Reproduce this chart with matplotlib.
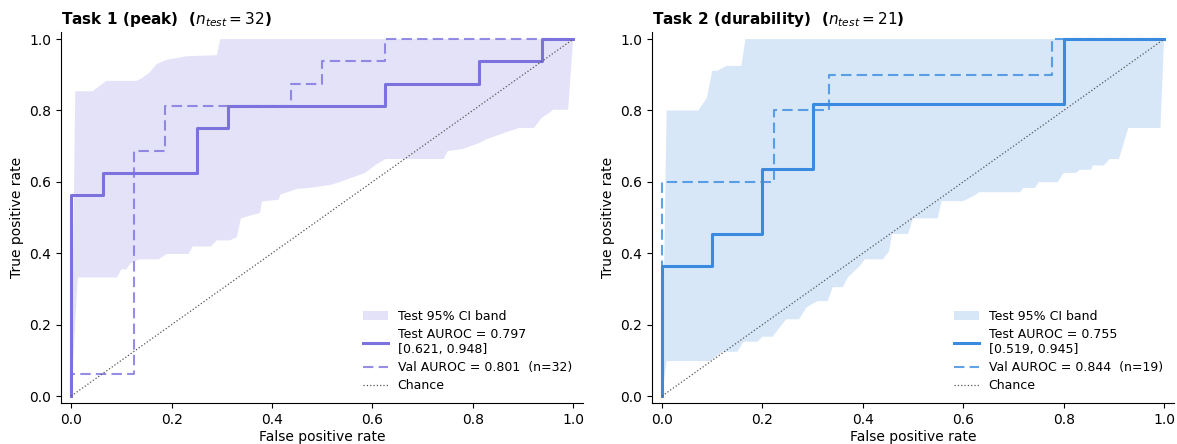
import numpy as np
import matplotlib.pyplot as plt

# task 1 (peak) - test roc curve vertices
t1_test_fpr = [0, 0, 0.0625, 0.0625, 0.25, 0.25, 0.3125, 0.3125, 0.625, 0.625, 0.8125, 0.8125, 0.9375, 0.9375, 1.0]
t1_test_tpr = [0, 0.5625, 0.5625, 0.625, 0.625, 0.75, 0.75, 0.8125, 0.8125, 0.875, 0.875, 0.9375, 0.9375, 1.0, 1.0]
# task 1 - val roc curve
t1_val_fpr = [0, 0, 0.125, 0.125, 0.1875, 0.1875, 0.4375, 0.4375, 0.5, 0.5, 0.625, 0.625, 1.0]
t1_val_tpr = [0, 0.0625, 0.0625, 0.6875, 0.6875, 0.8125, 0.8125, 0.875, 0.875, 0.9375, 0.9375, 1.0, 1.0]
# task 1 - bootstrap band (upper and lower edge)
t1_hi_fpr = [0, 0.008, 0.043, 0.05, 0.07, 0.13, 0.14, 0.155, 0.17, 0.19, 0.23, 0.29, 0.297, 1.0]
t1_hi_tpr = [0, 0.854, 0.854, 0.862, 0.883, 0.883, 0.89, 0.905, 0.93, 0.942, 0.952, 0.955, 1.0, 1.0]
t1_lo_fpr = [0, 0.013, 0.091, 0.1, 0.11, 0.118, 0.135, 0.174, 0.19, 0.234, 0.242, 0.278, 0.29, 0.316,
             0.33, 0.338, 0.376, 0.38, 0.413, 0.417, 0.45, 0.48, 0.518, 0.54, 0.585, 0.607, 0.626, 0.742,
             0.75, 0.78, 0.813, 0.825, 0.862, 0.892, 0.922, 0.937, 0.952, 0.96, 0.99, 1.0]
t1_lo_tpr = [0, 0.332, 0.332, 0.355, 0.355, 0.372, 0.383, 0.383, 0.398, 0.398, 0.419, 0.419, 0.436, 0.436,
             0.445, 0.498, 0.513, 0.545, 0.55, 0.565, 0.58, 0.584, 0.592, 0.602, 0.625, 0.648, 0.664, 0.664,
             0.686, 0.692, 0.709, 0.718, 0.737, 0.751, 0.751, 0.779, 0.793, 0.802, 0.802, 1.0]

# task 2 (durability)
t2_test_fpr = [0, 0, 0.1, 0.1, 0.2, 0.2, 0.3, 0.3, 0.8, 0.8, 1.0]
t2_test_tpr = [0, 4/11, 4/11, 5/11, 5/11, 7/11, 7/11, 9/11, 9/11, 1.0, 1.0]
t2_val_fpr = [0, 0, 2/9, 2/9, 3/9, 3/9, 7/9, 7/9, 1.0]
t2_val_tpr = [0, 0.6, 0.6, 0.8, 0.8, 0.9, 0.9, 1.0, 1.0]
t2_hi_fpr = [0, 0.009, 0.072, 0.089, 0.1, 0.11, 0.128, 0.158, 0.166, 1.0]
t2_hi_tpr = [0, 0.8, 0.8, 0.835, 0.911, 0.911, 0.925, 0.925, 1.0, 1.0]
t2_lo_fpr = [0, 0.009, 0.095, 0.12, 0.15, 0.162, 0.19, 0.2, 0.22, 0.247, 0.273, 0.288, 0.31, 0.33,
             0.34, 0.36, 0.37, 0.393, 0.404, 0.44, 0.452, 0.458, 0.49, 0.5, 0.549, 0.557, 0.6, 0.62,
             0.632, 0.713, 0.72, 0.743, 0.75, 0.788, 0.8, 0.825, 0.832, 0.855, 0.858, 0.88, 0.892,
             0.91, 0.929, 0.993, 1.0]
t2_lo_tpr = [0, 0.098, 0.098, 0.124, 0.124, 0.152, 0.152, 0.166, 0.166, 0.215, 0.215, 0.249, 0.266, 0.266,
             0.305, 0.305, 0.332, 0.363, 0.383, 0.383, 0.405, 0.454, 0.454, 0.498, 0.498, 0.546, 0.546, 0.56,
             0.571, 0.571, 0.583, 0.583, 0.599, 0.599, 0.625, 0.625, 0.634, 0.634, 0.646, 0.646, 0.664,
             0.664, 0.751, 0.751, 1.0]

titles = ["Task 1 (peak)  ($n_{test} = 32$)", "Task 2 (durability)  ($n_{test} = 21$)"]
test_labels = ["Test AUROC = 0.797\n[0.621, 0.948]", "Test AUROC = 0.755\n[0.519, 0.945]"]
val_labels = ["Val AUROC = 0.801  (n=32)", "Val AUROC = 0.844  (n=19)"]
colors = ["#7b72de", "#3a8be0"]

panels = [
    (t1_test_fpr, t1_test_tpr, t1_val_fpr, t1_val_tpr, t1_hi_fpr, t1_hi_tpr, t1_lo_fpr, t1_lo_tpr),
    (t2_test_fpr, t2_test_tpr, t2_val_fpr, t2_val_tpr, t2_hi_fpr, t2_hi_tpr, t2_lo_fpr, t2_lo_tpr),
]

fig = plt.figure(figsize=(11.77, 4.44), dpi=100)
lefts = [0.052, 0.554]

for i in range(2):
    tf, tt, vf, vt, hf, ht, lf, lt = panels[i]
    c = colors[i]
    ax = fig.add_axes([lefts[i], 0.092, 0.4435, 0.836])
    # band = upper edge then lower edge reversed
    poly_x = np.concatenate([hf, lf[::-1]])
    poly_y = np.concatenate([ht, lt[::-1]])
    ax.fill(poly_x, poly_y, color=c, alpha=0.2, lw=0, label="Test 95% CI band")
    ax.plot(tf, tt, color=c, lw=2.2, label=test_labels[i])
    ax.plot(vf, vt, color=c, lw=1.5, ls=(0, (5, 2.5)), alpha=0.8, label=val_labels[i])
    ax.plot([0, 1], [0, 1], color="#555555", lw=0.9, ls=":", label="Chance")
    ax.set_xlim(-0.02, 1.02)
    ax.set_ylim(-0.02, 1.02)
    ax.set_xticks(np.arange(0, 1.01, 0.2))
    ax.set_yticks(np.arange(0, 1.01, 0.2))
    ax.tick_params(labelsize=10)
    ax.spines["top"].set_visible(False)
    ax.spines["right"].set_visible(False)
    ax.set_xlabel("False positive rate", fontsize=10, labelpad=2)
    ax.set_ylabel("True positive rate", fontsize=10)
    ax.set_title(titles[i], loc="left", fontweight="bold", fontsize=11)
    ax.legend(loc="lower left", bbox_to_anchor=(0.556, 0.0), frameon=False, fontsize=9,
              handlelength=2.0, labelspacing=0.4)

fig.savefig("out.png", dpi=100)
